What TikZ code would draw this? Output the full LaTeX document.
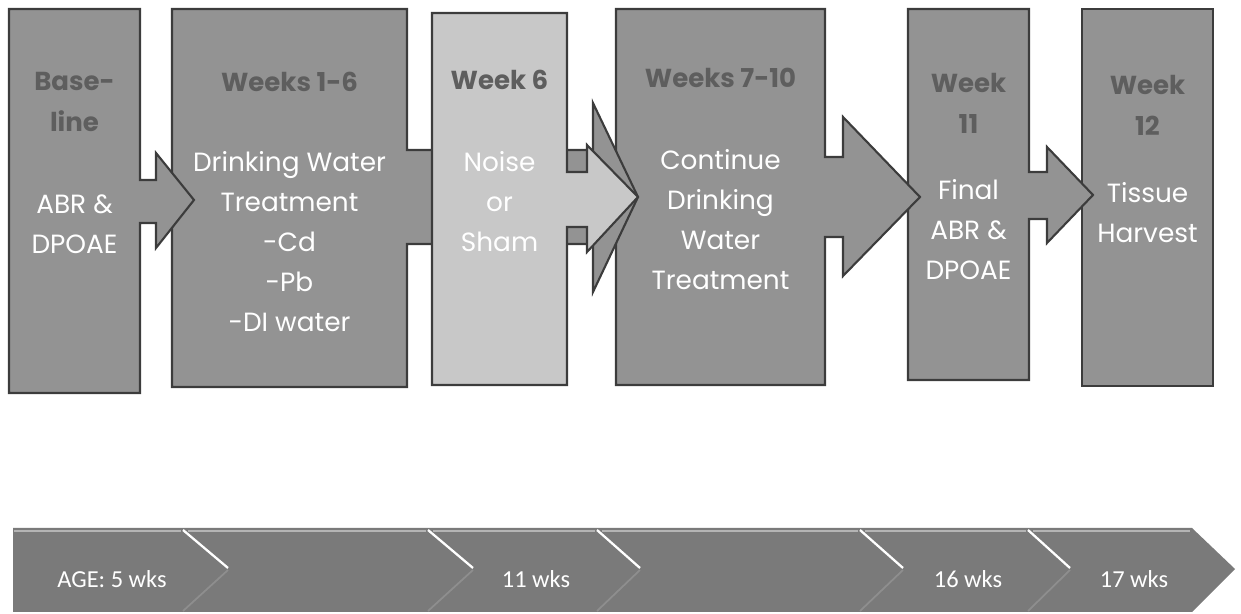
\documentclass[tikz,border=0pt]{standalone}
\usepackage{fontspec}
\setmainfont{Poppins}
\newfontfamily\barfont{Carlito}
\usepackage{tikz}
\usetikzlibrary{positioning}

\definecolor{phasegray}{HTML}{939393}
\definecolor{noisegray}{HTML}{C8C8C8}
\definecolor{edgegray}{HTML}{3C3C3C}
\definecolor{titlegray}{HTML}{5E5E5E}
\definecolor{bargray}{HTML}{7A7A7A}
\definecolor{barlight}{HTML}{B4B4B4}
\definecolor{barfaint}{HTML}{8E8E8E}

\begin{document}
\begin{tikzpicture}[x=0.02cm,y=-0.02cm]
		\tikzstyle{PhaseStyle}=[fill=phasegray,draw=edgegray,line width=1.2pt,line join=miter]
		\tikzstyle{TitleStyle}=[anchor=north,inner sep=0pt,align=center,text=titlegray,font=\fontsize{14.8}{23.3}\selectfont\bfseries]
		\tikzstyle{BodyStyle}=[anchor=north,inner sep=0pt,align=center,text=white,font=\fontsize{15}{22.8}\selectfont]
		\tikzstyle{AgeStyle}=[anchor=base,inner sep=0pt,text=white,font=\barfont\fontsize{13.9}{16}\selectfont]
		\useasboundingbox (0,0) rectangle (1241,614);

		% phases, back to front
		\draw[PhaseStyle] (1082,9) -- (1213,9) -- (1213,386) -- (1082,386) -- cycle;
		\draw[PhaseStyle] (908,9) -- (1029,9) -- (1029,172) -- (1047,172) -- (1047,147)
			-- (1093,195) -- (1047,243) -- (1047,219) -- (1029,219) -- (1029,380) -- (908,380) -- cycle;
		\draw[PhaseStyle] (616,9) -- (825,9) -- (825,157) -- (843,157) -- (843,117)
			-- (920,197) -- (843,276) -- (843,237) -- (825,237) -- (825,385) -- (616,385) -- cycle;
		\draw[PhaseStyle] (172,9) -- (407,9) -- (407,150) -- (593,150) -- (593,103)
			-- (638,197) -- (593,292) -- (593,244) -- (407,244) -- (407,387) -- (172,387) -- cycle;
		\draw[PhaseStyle,fill=noisegray] (432,13) -- (567,13) -- (567,172) -- (587,172) -- (587,145)
			-- (638,197) -- (587,252) -- (587,227) -- (567,227) -- (567,385) -- (432,385) -- cycle;
		\draw[PhaseStyle] (9,9) -- (140,9) -- (140,180) -- (156,180) -- (156,153)
			-- (194,200) -- (156,248) -- (156,223) -- (140,223) -- (140,393) -- (9,393) -- cycle;

		% labels
		\node[TitleStyle] (base) at (74.5,72) {Base-\\line};
		\node[BodyStyle] (abr) at (74.5,194) {ABR \&\\DPOAE};
		\node[TitleStyle] (wk16) at (289.5,72) {Weeks 1-6};
		\node[BodyStyle] (water) at (289.5,151) {Drinking Water\\Treatment\\-Cd\\-Pb\\-DI water};
		\node[TitleStyle] (wk6) at (499.5,70) {Week 6};
		\node[BodyStyle] (noise) at (499.5,151) {Noise\\or\\Sham};
		\node[TitleStyle] (wk710) at (720.5,68) {Weeks 7-10};
		\node[BodyStyle] (cont) at (720.5,149) {Continue\\Drinking\\Water\\Treatment};
		\node[TitleStyle] (wk11) at (968.5,73) {Week\\11};
		\node[BodyStyle] (final) at (968.5,179) {Final\\ABR \&\\DPOAE};
		\node[TitleStyle] (wk12) at (1147.5,75) {Week\\12};
		\node[BodyStyle] (tissue) at (1147.5,182) {Tissue\\Harvest};

		% age bar
		\fill[bargray] (13,528) -- (1192,528) -- (1235,569) -- (1192,612) -- (13,612) -- cycle;
		\draw[barlight,line width=1.5pt] (14,531) -- (181,531);
		\draw[barlight,line width=1.5pt] (188,531) -- (426,531);
		\draw[barlight,line width=1.5pt] (433,531) -- (595,531);
		\draw[barlight,line width=1.5pt] (602,531) -- (858,531);
		\draw[barlight,line width=1.5pt] (865,531) -- (1026,531);
		\draw[barlight,line width=1.5pt] (1033,531) -- (1190,531);
		\draw[white,line width=1.3pt] (183,530) -- (228,568);
		\draw[white,line width=1.3pt] (428,530) -- (473,568);
		\draw[white,line width=1.3pt] (597,530) -- (640,568);
		\draw[white,line width=1.3pt] (860,530) -- (903,568);
		\draw[white,line width=1.3pt] (1028,530) -- (1070,568);
		\draw[barfaint,line width=1pt] (228,570) -- (183,611);
		\draw[barfaint,line width=1pt] (473,570) -- (428,611);
		\draw[barfaint,line width=1pt] (640,570) -- (597,611);
		\draw[barfaint,line width=1pt] (903,570) -- (860,611);
		\draw[barfaint,line width=1pt] (1070,570) -- (1028,611);

		\node[AgeStyle] (age5) at (112,588) {AGE: 5 wks};
		\node[AgeStyle] (age11) at (536,588) {11 wks};
		\node[AgeStyle] (age16) at (968,588) {16 wks};
		\node[AgeStyle] (age17) at (1134,588) {17 wks};
	\end{tikzpicture}
\end{document}
